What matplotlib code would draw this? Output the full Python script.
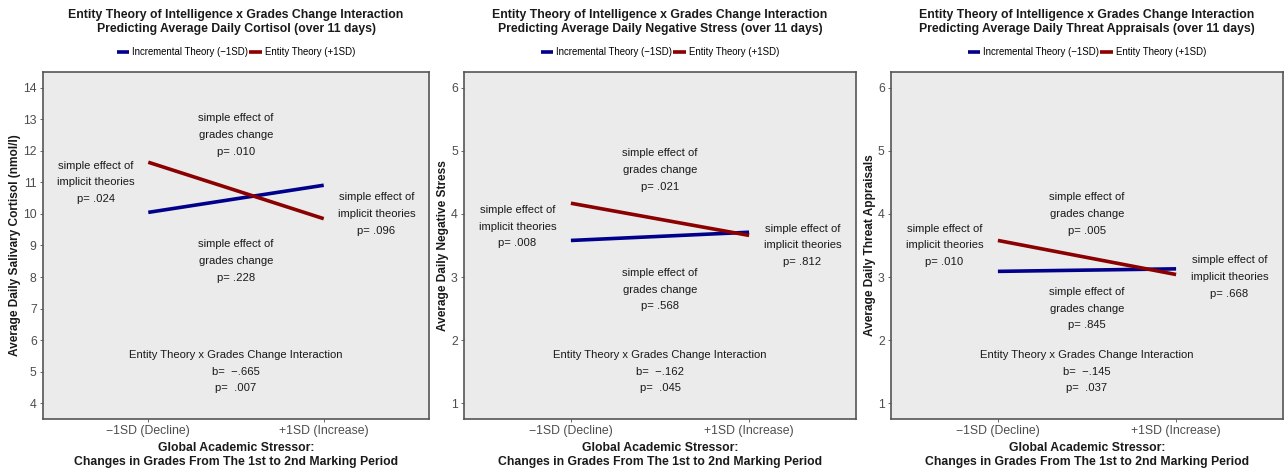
import matplotlib
matplotlib.use('Agg')
import matplotlib.pyplot as plt

plt.rcParams['font.family'] = ['Liberation Sans', 'DejaVu Sans']

# data
x_labels = ['\u22121SD (Decline)', '+1SD (Increase)']
x_pos = [1, 2]
group_names = ['Incremental Theory (\u22121SD)', 'Entity Theory (+1SD)']
group_colors = ['#00008B', '#8B0000']

titles = ['Entity Theory of Intelligence x Grades Change Interaction\nPredicting Average Daily Cortisol (over 11 days)',
          'Entity Theory of Intelligence x Grades Change Interaction\nPredicting Average Daily Negative Stress (over 11 days)',
          'Entity Theory of Intelligence x Grades Change Interaction\nPredicting Average Daily Threat Appraisals (over 11 days)']
y_labels = ['Average Daily Salivary Cortisol (nmol/l)', 'Average Daily Negative Stress', 'Average Daily Threat Appraisals']

cortisol_incremental = [10.05, 10.91]
cortisol_entity = [11.64, 9.85]
stress_incremental = [3.58, 3.71]
stress_entity = [4.17, 3.66]
threat_incremental = [3.09, 3.13]
threat_entity = [3.58, 3.04]

y_ticks = [list(range(4, 15)), list(range(1, 7)), list(range(1, 7))]
y_lims = [(3.5, 14.5), (0.75, 6.25), (0.75, 6.25)]

# annotation texts (x, y, text) per panel
notes = [
    [(1.5, 12.5, 'simple effect of\ngrades change\np= .010'),
     (0.7, 11.0, 'simple effect of\nimplicit theories\np= .024'),
     (2.3, 10.0, 'simple effect of\nimplicit theories\np= .096'),
     (1.5, 8.5, 'simple effect of\ngrades change\np= .228'),
     (1.5, 5.0, 'Entity Theory x Grades Change Interaction\nb=  \u2212.665\np=  .007')],
    [(1.5, 4.7, 'simple effect of\ngrades change\np= .021'),
     (0.7, 3.8, 'simple effect of\nimplicit theories\np= .008'),
     (2.3, 3.5, 'simple effect of\nimplicit theories\np= .812'),
     (1.5, 2.8, 'simple effect of\ngrades change\np= .568'),
     (1.5, 1.5, 'Entity Theory x Grades Change Interaction\nb=  \u2212.162\np=  .045')],
    [(1.5, 4.0, 'simple effect of\ngrades change\np= .005'),
     (0.7, 3.5, 'simple effect of\nimplicit theories\np= .010'),
     (2.3, 3.0, 'simple effect of\nimplicit theories\np= .668'),
     (1.5, 2.5, 'simple effect of\ngrades change\np= .845'),
     (1.5, 1.5, 'Entity Theory x Grades Change Interaction\nb=  \u2212.145\np=  .037')],
]

series = [(cortisol_incremental, cortisol_entity),
          (stress_incremental, stress_entity),
          (threat_incremental, threat_entity)]

W, H = 1288, 472
fig = plt.figure(figsize=(W / 100, H / 100), dpi=100)

# axes boxes in pixels (left, right)
boxes = [(43, 429), (464, 856), (891, 1283)]
top_px, bottom_px = 72, 419
ylab_x = [15, 443, 870]

for i in range(3):
    l, r = boxes[i]
    ax = fig.add_axes([l / W, (H - bottom_px) / H, (r - l) / W, (bottom_px - top_px) / H])
    ax.set_facecolor('#EBEBEB')
    inc, ent = series[i]
    ax.plot(x_pos, inc, color=group_colors[0], linewidth=2.6, solid_capstyle='butt', label=group_names[0])
    ax.plot(x_pos, ent, color=group_colors[1], linewidth=2.6, solid_capstyle='butt', label=group_names[1])
    ax.set_xlim(0.4, 2.6)
    ax.set_ylim(*y_lims[i])
    ax.set_xticks(x_pos)
    ax.set_xticklabels(x_labels)
    ax.set_yticks(y_ticks[i])
    ax.tick_params(axis='both', colors='#4D4D4D', labelsize=8.8, length=2.5, width=0.6, pad=2)
    for sp in ax.spines.values():
        sp.set_color('#555555')
        sp.set_linewidth(1.2)
    for xx, yy, t in notes[i]:
        ax.text(xx, yy, t, ha='center', va='center', fontsize=8.1, color='#1a1a1a', linespacing=1.85)

    cx = (l + r) / 2 / W
    fig.text(cx, 1 - 22 / H, titles[i], ha='center', va='center', fontsize=8.8,
             fontweight='bold', color='#1a1a1a', linespacing=1.2)
    fig.text(cx, 1 - 455 / H, 'Global Academic Stressor:\nChanges in Grades From The 1st to 2nd Marking Period',
             ha='center', va='center', fontsize=8.8, fontweight='bold', color='#1a1a1a', linespacing=1.15)
    fig.text(ylab_x[i] / W, (H - (top_px + bottom_px) / 2) / H, y_labels[i], rotation=90,
             ha='center', va='center', fontsize=8.6, fontweight='bold', color='#1a1a1a')
    leg = ax.legend(loc='center', bbox_to_anchor=(0.5, 1 + (top_px - 52) / (bottom_px - top_px)),
                    ncol=2, frameon=False, fontsize=6.9, handlelength=1.3, handletextpad=0.3,
                    columnspacing=0.1, borderpad=0)
    for ln in leg.get_lines():
        ln.set_linewidth(2.6)

fig.savefig('out.png', dpi=100)
